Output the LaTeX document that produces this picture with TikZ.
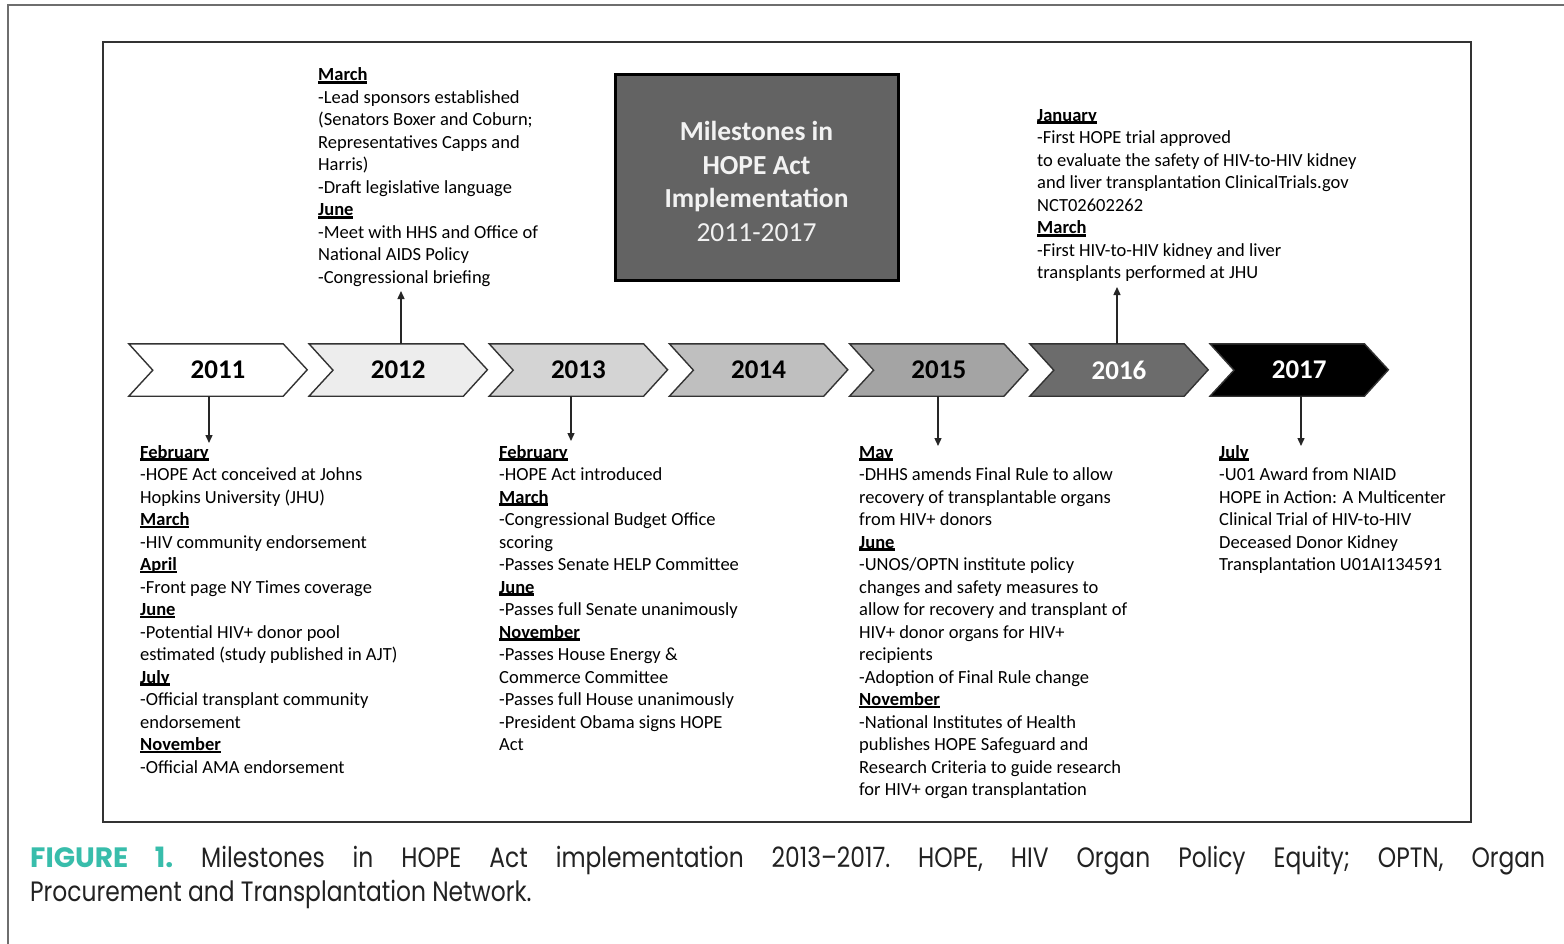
\documentclass[tikz,border=0pt]{standalone}
\usepackage{fontspec}
\setmainfont{Carlito}
\newfontfamily\capfont[FakeStretch=0.835]{Poppins}
\newfontfamily\capheavy[FakeStretch=1.0]{Poppins}
\usetikzlibrary{arrows.meta}
\definecolor{bodytext}{HTML}{2E2E2E}
\definecolor{framegray}{HTML}{6E6E6E}
\definecolor{boxline}{HTML}{333333}
\definecolor{titlefill}{HTML}{636363}
\definecolor{titletext}{HTML}{F2F2F2}
\definecolor{cA}{HTML}{FFFFFF}
\definecolor{cB}{HTML}{EDEDED}
\definecolor{cC}{HTML}{D4D4D4}
\definecolor{cD}{HTML}{BFBFBF}
\definecolor{cE}{HTML}{A4A4A4}
\definecolor{cF}{HTML}{6C6C6C}
\definecolor{cG}{HTML}{000000}
\definecolor{figteal}{RGB}{56,189,171}
\definecolor{captext}{HTML}{222222}
\newcommand{\mhead}[1]{\leavevmode\setbox0=\hbox{\bfseries\color{black}#1}\rlap{\color{black}\rule[-2.6pt]{\wd0}{2.6pt}}\box0}
\newcommand{\blktext}[1]{\parbox[t]{430pt}{\raggedright\fontsize{18.5pt}{22.5pt}\selectfont #1}}
\newcommand{\chev}[5]{%
  \node[chevbox] (#1) at (#2+77,370) {};
  \filldraw[chevline, fill=#3] (#1.north west) -- (#1.north east) -- ++(24,26) -- (#1.south east) -- (#1.south west) -- ++(24,-26) -- cycle;
  \node[yearlabel, text=#4] (#1t) at (#2+89,370) {#5};
}
\begin{document}
\begin{tikzpicture}[x=1pt,y=-1pt,
  chevbox/.style={minimum width=154pt, minimum height=52pt, inner sep=0pt, draw=none},
  chevline/.style={draw=black!80, line width=1.4pt, line join=miter},
  yearlabel/.style={font=\bfseries\fontsize{27pt}{30pt}\selectfont, inner sep=0pt},
  titlebox/.style={draw=black, line width=3pt, fill=titlefill, minimum width=283pt, minimum height=205pt, inner sep=0pt, align=center, text=titletext, font=\fontsize{27.5pt}{33.5pt}\selectfont},
  blk/.style={anchor=base west, inner sep=0pt, text=bodytext},
  arr/.style={draw=black!85, line width=1.4pt, -{Triangle[length=8pt,width=7pt]}}
]
\useasboundingbox (0,0) rectangle (1564,944);
\fill[white] (0,0) rectangle (1564,944);
% outer page frame
\draw[framegray, line width=2pt] (1564,5) -- (8,5) -- (8,944);
% inner figure box
\draw[boxline, line width=2.5pt] (103,42) rectangle (1471,822);

% title
\node[titlebox] (title) at (756.5,177.5) {\rule{0pt}{27pt}\bfseries Milestones in\\\bfseries HOPE Act\\\bfseries Implementation\\2011-2017};

% chevrons
\chev{y11}{129}{cA}{black}{2011}
\chev{y12}{309.2}{cB}{black}{2012}
\chev{y13}{489.4}{cC}{black}{2013}
\chev{y14}{669.6}{cD}{black}{2014}
\chev{y15}{849.8}{cE}{black}{2015}
\chev{y16}{1030}{cF}{white}{2016}
\chev{y17}{1210.2}{cG}{white}{2017}

% arrow end points
\coordinate (a11s) at (209,396); \coordinate (a11e) at (209,443);
\coordinate (a12s) at (401,344); \coordinate (a12e) at (401,291);
\coordinate (a13s) at (571,396); \coordinate (a13e) at (571,441);
\coordinate (a15s) at (938,396); \coordinate (a15e) at (938,446);
\coordinate (a16s) at (1117,344); \coordinate (a16e) at (1117,287);
\coordinate (a17s) at (1301,396); \coordinate (a17e) at (1301,446);
\draw[arr] (a11s) -- (a11e);
\draw[arr] (a12s) -- (a12e);
\draw[arr] (a13s) -- (a13e);
\draw[arr] (a15s) -- (a15e);
\draw[arr] (a16s) -- (a16e);
\draw[arr] (a17s) -- (a17e);

% text blocks
\node[blk] (t12) at (318,81) {\blktext{\mhead{March}\\
-Lead sponsors established\\
(Senators Boxer and Coburn;\\
Representatives Capps and\\
Harris)\\
-Draft legislative language\\
\mhead{June}\\
-Meet with HHS and Office of\\
National AIDS Policy\\
-Congressional briefing}};

\node[blk] (t16) at (1037,121.5) {\blktext{\mhead{January}\\
-First HOPE trial approved\\
to evaluate the safety of HIV-to-HIV kidney\\
and liver transplantation ClinicalTrials.gov\\
NCT02602262\\
\mhead{March}\\
-First HIV-to-HIV kidney and liver\\
transplants performed at JHU}};

\node[blk] (t11) at (140,458) {\blktext{\mhead{February}\\
-HOPE Act conceived at Johns\\
Hopkins University (JHU)\\
\mhead{March}\\
-HIV community endorsement\\
\mhead{April}\\
-Front page NY Times coverage\\
\mhead{June}\\
-Potential HIV+ donor pool\\
estimated (study published in AJT)\\
\mhead{July}\\
-Official transplant community\\
endorsement\\
\mhead{November}\\
-Official AMA endorsement}};

\node[blk] (t13) at (499,458) {\blktext{\mhead{February}\\
-HOPE Act introduced\\
\mhead{March}\\
-Congressional Budget Office\\
scoring\\
-Passes Senate HELP Committee\\
\mhead{June}\\
-Passes full Senate unanimously\\
\mhead{November}\\
-Passes House Energy \&\\
Commerce Committee\\
-Passes full House unanimously\\
-President Obama signs HOPE\\
Act}};

\node[blk] (t15) at (859,458) {\blktext{\mhead{May}\\
-DHHS amends Final Rule to allow\\
recovery of transplantable organs\\
from HIV+ donors\\
\mhead{June}\\
-UNOS/OPTN institute policy\\
changes and safety measures to\\
allow for recovery and transplant of\\
HIV+ donor organs for HIV+\\
recipients\\
-Adoption of Final Rule change\\
\mhead{November}\\
-National Institutes of Health\\
publishes HOPE Safeguard and\\
Research Criteria to guide research\\
for HIV+ organ transplantation}};

\node[blk] (t17) at (1219,458) {\blktext{\mhead{July}\\
-U01 Award from NIAID\\
HOPE in Action: A Multicenter\\
Clinical Trial of HIV-to-HIV\\
Deceased Donor Kidney\\
Transplantation U01AI134591}};

% caption
\node[blk, text=captext] (cap) at (30,867) {\parbox[t]{1515pt}{\capfont\fontsize{28pt}{34.5pt}\selectfont\frenchspacing\hyphenpenalty=10000\leavevmode
{\capheavy\bfseries\color{figteal}FIGURE 1.} Milestones in HOPE Act implementation 2013–2017. HOPE, HIV Organ Policy Equity; OPTN, Organ\linebreak
Procurement and Transplantation Network.}};
\end{tikzpicture}
\end{document}
